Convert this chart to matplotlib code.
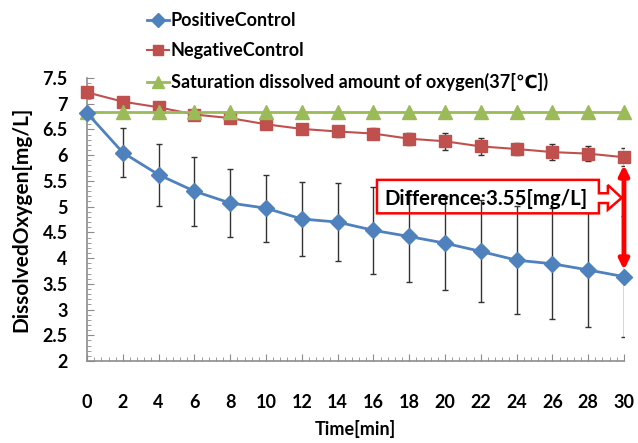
import matplotlib
matplotlib.use("Agg")
import matplotlib.pyplot as plt
from matplotlib.patches import Polygon
from matplotlib.ticker import MultipleLocator
import numpy as np

# Données
temps = [0, 2, 4, 6, 8, 10, 12, 14, 16, 18, 20, 22, 24, 26, 28, 30]
positif = [6.82, 6.05, 5.62, 5.30, 5.07, 4.97, 4.76, 4.70, 4.54, 4.42, 4.29, 4.13, 3.96, 3.89, 3.77, 3.64]
positif_err = [0.0, 0.47, 0.60, 0.67, 0.66, 0.65, 0.72, 0.76, 0.85, 0.89, 0.91, 0.99, 1.05, 1.08, 1.10, 1.18]
negatif = [7.22, 7.04, 6.93, 6.79, 6.72, 6.60, 6.51, 6.46, 6.42, 6.32, 6.27, 6.17, 6.12, 6.06, 6.03, 5.96]
negatif_err = [0.0, 0.04, 0.05, 0.06, 0.07, 0.08, 0.09, 0.10, 0.11, 0.12, 0.17, 0.17, 0.12, 0.15, 0.14, 0.18]
saturation = [6.84] * len(temps)

labels = ["PositiveControl", "NegativeControl",
          "Saturation dissolved amount of oxygen(37[\u2103])"]
texte_diff = "Difference:3.55[mg/L]"

plt.rcParams['font.family'] = ['Lato', 'DejaVu Sans']
plt.rcParams['font.weight'] = 'bold'

fig = plt.figure(figsize=(6.38, 4.43), dpi=100)
ax = fig.add_axes([0.1364, 0.185, 0.8416, 0.639])

bleu = '#4F81BD'
rouge = '#C0504D'
vert = '#9BBB59'

# Barres d'erreur
ax.errorbar(temps, positif, yerr=positif_err, fmt='none', ecolor='#333333',
            elinewidth=1, capsize=2, capthick=1, zorder=2)
ax.errorbar(temps, negatif, yerr=negatif_err, fmt='none', ecolor='#333333',
            elinewidth=1, capsize=2, capthick=1, zorder=2)

l1, = ax.plot(temps, positif, color=bleu, marker='D', markersize=8.5, lw=2,
              label=labels[0], zorder=4, clip_on=False)
l2, = ax.plot(temps, negatif, color=rouge, marker='s', markersize=9, lw=1.5,
              label=labels[1], zorder=3, clip_on=False)
l3, = ax.plot(temps, saturation, color=vert, marker='^', markersize=10, lw=2,
              label=labels[2], zorder=3, clip_on=False)

ax.set_xlim(0, 30)
ax.set_ylim(2, 7.5)
ax.xaxis.set_major_locator(MultipleLocator(2))
ax.xaxis.set_minor_locator(MultipleLocator(0.4))
ax.yaxis.set_minor_locator(MultipleLocator(0.1))
ax.set_yticks(np.arange(2, 7.51, 0.5))
ax.set_yticklabels(['2', '2.5', '3', '3.5', '4', '4.5', '5', '5.5', '6', '6.5', '7', '7.5'])

for s in ['top', 'right']:
    ax.spines[s].set_visible(False)
for s in ['left', 'bottom']:
    ax.spines[s].set_color('#8c8c8c')
    ax.spines[s].set_linewidth(1.2)

ax.tick_params(which='both', direction='in', color='#8c8c8c')
ax.tick_params(which='major', length=5, labelsize=13)
ax.tick_params(which='minor', length=3)
ax.tick_params(axis='x', which='major', pad=24)
ax.tick_params(axis='y', which='major', pad=14)

ax.set_xlabel("Time[min]", fontsize=13, fontweight='bold', labelpad=6)
ax.set_ylabel("DissolvedOxygen[mg/L]", fontsize=15, fontweight='bold', labelpad=8)

# Légende au-dessus du graphique
fig.legend(handles=[l1, l2, l3], loc='upper left', bbox_to_anchor=(0.205, 1.01),
           frameon=False, fontsize=13, handlelength=1.2, handletextpad=0.1,
           labelspacing=0.75, markerscale=0.85)

# Flèche de différence
ax.annotate('', xy=(30, 3.77), xytext=(30, 5.81),
            arrowprops=dict(arrowstyle='<|-|>', color='red', lw=3.5,
                            mutation_scale=14, shrinkA=0, shrinkB=0),
            zorder=6, annotation_clip=False)

# Boîte en forme de flèche
contour = [(16.2, 5.52), (28.6, 5.52), (28.6, 5.26), (29.1, 5.26), (29.1, 5.42),
           (29.87, 5.17), (29.1, 4.94), (29.1, 5.07), (28.6, 5.07), (28.6, 4.87),
           (16.2, 4.87)]
ax.add_patch(Polygon(contour, closed=True, fill=False, edgecolor='red', lw=1.8, zorder=5))
ax.text(22.3, 5.15, texte_diff, fontsize=14.7, fontweight='bold', ha='center',
        va='center', zorder=6)

fig.savefig('out.png', dpi=100)
